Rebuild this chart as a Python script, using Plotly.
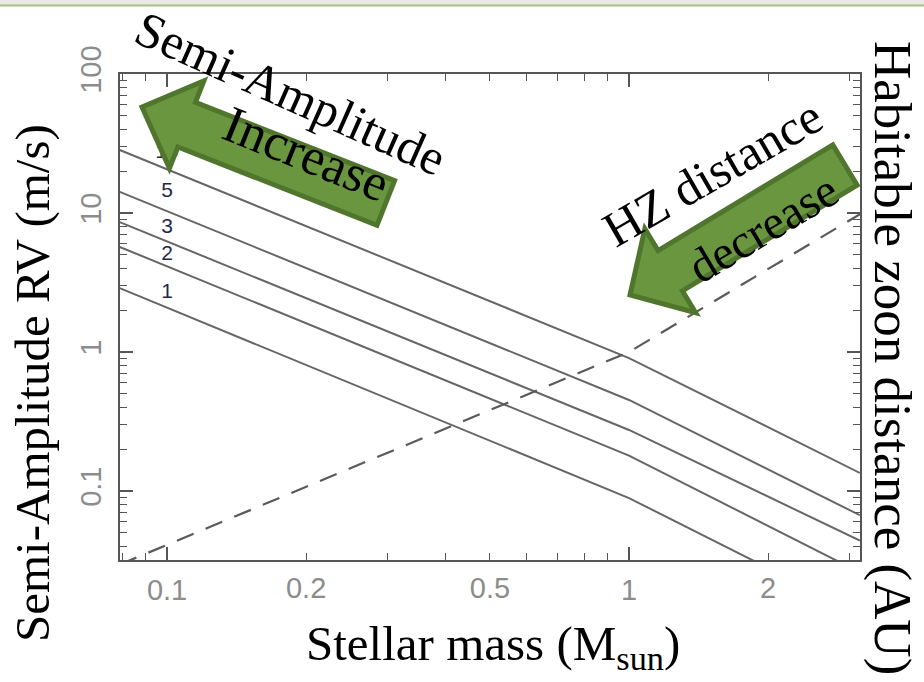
import math
import plotly.graph_objects as go

# ---------------- data ----------------
stellar_mass = [0.079, 1.0, 3.16]           # M_sun, break points of the curves
planet_labels = ["1", "2", "3", "5", "10"]   # planet mass (Earth masses)
K_1 = [2.88, 0.089, 0.013]                   # semi-amplitude (m/s)
K_2 = [5.7, 0.18, 0.026]
K_3 = [8.6, 0.275, 0.044]
K_5 = [14.2, 0.452, 0.067]
K_10 = [28.4, 0.905, 0.135]
hz_mass = [0.079, 1.0, 3.16]
hz_distance = [0.0296, 1.0, 9.8]             # AU (right axis, same log scale)
label_mass = [0.1, 0.1, 0.1, 0.1, 0.1]
label_K = [2.65, 5.0, 7.9, 14.2, 27.0]
x_extra = [0.2, 0.5, 2]
x_extra_text = ["0.2", "0.5", "2"]

# ---------------- layout geometry ----------------
W, H = 924, 682
L_, R_, T_, B_ = 120, 860, 74, 560
PW, PH = R_ - L_, B_ - T_


def px(x):
    return (x - L_) / PW


def py(y):
    return (B_ - y) / PH


LINE = "#666666"
AX = "#555555"
TICKFONT = dict(family="Liberation Sans Narrow, Liberation Sans", size=29, color="#8c8c8c")
SERIF = "Liberation Serif"

fig = go.Figure()
for K in [K_1, K_2, K_3, K_5, K_10]:
    fig.add_trace(go.Scatter(x=stellar_mass, y=K, mode="lines",
                             line=dict(color=LINE, width=2), hoverinfo="skip",
                             showlegend=False))
fig.add_trace(go.Scatter(x=hz_mass, y=hz_distance, mode="lines",
                         line=dict(color="#5a5a5a", width=2.2, dash="18px,13px"),
                         hoverinfo="skip", showlegend=False))
fig.add_trace(go.Scatter(x=label_mass, y=label_K, text=planet_labels, mode="text",
                         xaxis="x2",
                         textfont=dict(family="Liberation Sans Narrow, Liberation Sans",
                                       size=21, color="#1f2a4a"),
                         hoverinfo="skip", showlegend=False))

xr = [math.log10(0.0791), 0.5]
yr = [-1.496, 2.0]
MINOR = dict(ticks="inside", ticklen=7, tickwidth=1.2, tickcolor=AX,
             dtick="D1", showgrid=False)
fig.update_layout(
    width=W, height=H, margin=dict(l=L_, r=W - R_, t=T_, b=H - B_),
    paper_bgcolor="white", plot_bgcolor="white", showlegend=False,
    xaxis=dict(type="log", range=xr, showgrid=False, zeroline=False,
               showline=True, linecolor=AX, linewidth=1.5, mirror="ticks",
               ticks="inside", ticklen=13, tickwidth=1.5, tickcolor=AX,
               tickmode="linear", tick0=0, dtick=1,
               tickfont=TICKFONT, ticklabelstandoff=3, minor=MINOR),
    xaxis2=dict(type="log", range=xr, overlaying="x", anchor="y", side="bottom",
                showgrid=False, zeroline=False, showline=False, ticks="",
                tickmode="array", tickvals=x_extra, ticktext=x_extra_text,
                tickfont=TICKFONT, ticklabelstandoff=8),
    yaxis=dict(type="log", range=yr, showgrid=False, zeroline=False,
               showline=True, linecolor=AX, linewidth=1.5, mirror="ticks",
               ticks="inside", ticklen=13, tickwidth=1.5, tickcolor=AX,
               tickmode="linear", tick0=0, dtick=1,
               tickangle=-90, tickfont=TICKFONT, ticklabelstandoff=6, minor=MINOR),
)


def arrow_path(tip, tail, shw, hhw, hlen):
    tx, ty = tip
    ax, ay = tail
    d = math.hypot(tx - ax, ty - ay)
    ux, uy = (tx - ax) / d, (ty - ay) / d
    nx, ny = -uy, ux
    bx, by = tx - ux * hlen, ty - uy * hlen
    pts = [(ax + nx * shw, ay + ny * shw), (bx + nx * shw, by + ny * shw),
           (bx + nx * hhw, by + ny * hhw), (tx, ty),
           (bx - nx * hhw, by - ny * hhw), (bx - nx * shw, by - ny * shw),
           (ax - nx * shw, ay - ny * shw)]
    return "M " + " L ".join(f"{px(x):.5f},{py(y):.5f}" for x, y in pts) + " Z"


GREEN = "#6a9640"
GREEN_D = "#50762e"
a = math.radians(21.5)
inc_tip = (142, 107)
inc_tail = (142 + 262 * math.cos(a), 107 + 262 * math.sin(a))
dec_tip = (630, 295)
dec_tail = (845, 165)
for tip, tail, shw, hhw, hl in [(inc_tip, inc_tail, 24, 47, 48),
                                (dec_tip, dec_tail, 23.5, 49, 47)]:
    fig.add_shape(type="path", path=arrow_path(tip, tail, shw, hhw, hl),
                  xref="paper", yref="paper", fillcolor=GREEN,
                  line=dict(color=GREEN_D, width=5), layer="above")

# top strip
fig.add_shape(type="rect", xref="paper", yref="paper", x0=px(0), x1=px(W),
              y0=py(5), y1=py(0), fillcolor="#ebe7e3", line=dict(width=0))
fig.add_shape(type="line", xref="paper", yref="paper", x0=px(0), x1=px(W),
              y0=py(5.5), y1=py(5.5), line=dict(color="#a3c184", width=2))


def txt(s, x, y, size, angle=0):
    fig.add_annotation(text=s, x=px(x), y=py(y), xref="paper", yref="paper",
                       xanchor="center", yanchor="middle", showarrow=False,
                       textangle=angle, font=dict(family=SERIF, size=size, color="black"))


txt("Semi-Amplitude RV (m/s)", 33, 383, 49, -90)
txt("Habitable zoon distance (AU)", 893, 358, 53, 90)
txt("Stellar mass (M<sub>sun</sub>)", 493, 646, 49)
txt("Semi-Amplitude", 290, 93, 50, 24)
txt("Increase", 306, 153, 52, 22)
txt("HZ distance", 712, 173, 50, -30)
txt("decrease", 762, 228, 48, -31)

fig.write_html("out.html")
